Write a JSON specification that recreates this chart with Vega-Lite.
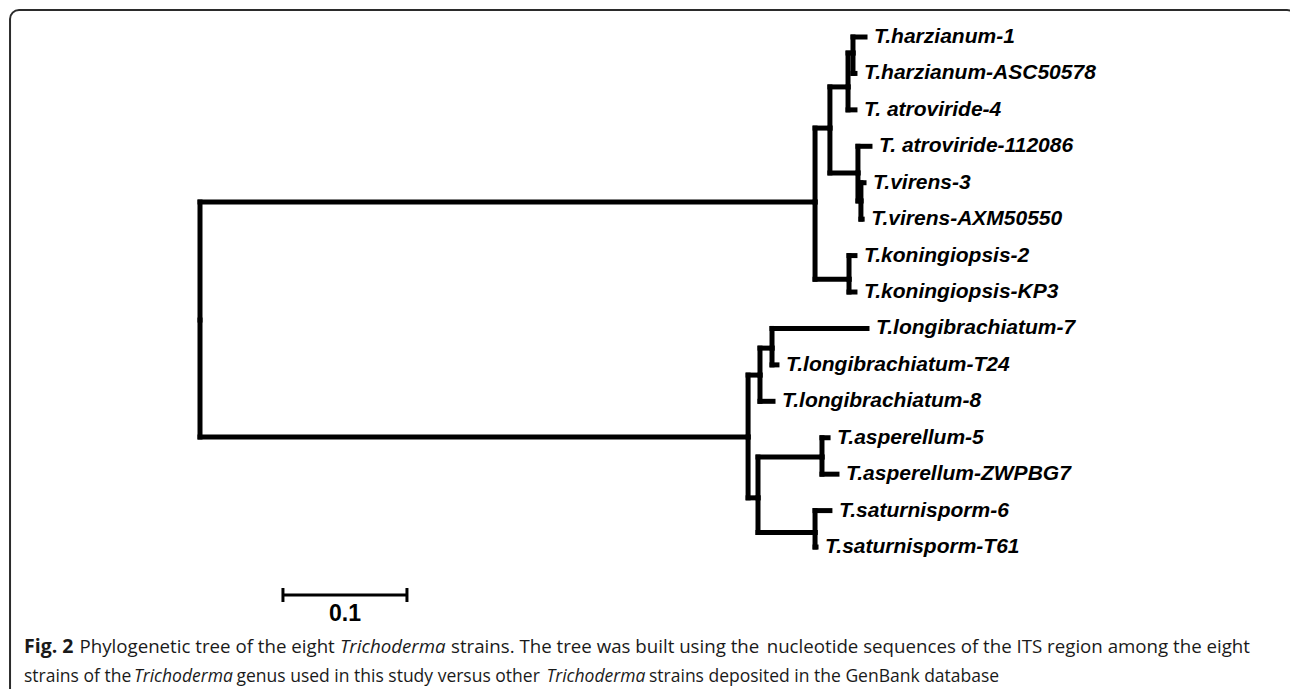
{
  "$schema": "https://vega.github.io/schema/vega-lite/v6.json",
  "width": 1290,
  "height": 689,
  "padding": 0,
  "autosize": {"type": "fit", "contains": "padding"},
  "background": "white",
  "config": {"view": {"stroke": null}},
  "datasets": {
    "nodes": [
      {"id": "R", "parent": null, "x": 0, "y": 7.77},
      {"id": "A", "parent": "R", "x": 0.496, "y": 4.53},
      {"id": "B", "parent": "A", "x": 0.508, "y": 2.5},
      {"id": "C", "parent": "B", "x": 0.5226, "y": 1.37},
      {"id": "E", "parent": "C", "x": 0.5266, "y": 0.44},
      {"id": "L0", "parent": "E", "x": 0.5363, "y": 0, "label": "T.harzianum-1"},
      {"id": "L1", "parent": "E", "x": 0.5282, "y": 1, "label": "T.harzianum-ASC50578"},
      {"id": "L2", "parent": "C", "x": 0.5282, "y": 2, "label": "T. atroviride-4"},
      {"id": "D", "parent": "B", "x": 0.5306, "y": 3.73},
      {"id": "L3", "parent": "D", "x": 0.5403, "y": 3, "label": "T. atroviride-112086"},
      {"id": "F", "parent": "D", "x": 0.533, "y": 4.5},
      {"id": "L4", "parent": "F", "x": 0.5355, "y": 4, "label": "T.virens-3"},
      {"id": "L5", "parent": "F", "x": 0.534, "y": 5, "label": "T.virens-AXM50550"},
      {"id": "G", "parent": "A", "x": 0.5234, "y": 6.65},
      {"id": "L6", "parent": "G", "x": 0.5282, "y": 6, "label": "T.koningiopsis-2"},
      {"id": "L7", "parent": "G", "x": 0.5282, "y": 7, "label": "T.koningiopsis-KP3"},
      {"id": "H", "parent": "R", "x": 0.442, "y": 10.98},
      {"id": "I", "parent": "H", "x": 0.4516, "y": 9.28},
      {"id": "J", "parent": "I", "x": 0.4613, "y": 8.54},
      {"id": "L8", "parent": "J", "x": 0.5379, "y": 8, "label": "T.longibrachiatum-7"},
      {"id": "L9", "parent": "J", "x": 0.4653, "y": 9, "label": "T.longibrachiatum-T24"},
      {"id": "L10", "parent": "I", "x": 0.4621, "y": 10, "label": "T.longibrachiatum-8"},
      {"id": "K", "parent": "H", "x": 0.45, "y": 12.65},
      {"id": "N", "parent": "K", "x": 0.5016, "y": 11.53},
      {"id": "L11", "parent": "N", "x": 0.5065, "y": 11, "label": "T.asperellum-5"},
      {"id": "L12", "parent": "N", "x": 0.5137, "y": 12, "label": "T.asperellum-ZWPBG7"},
      {"id": "M", "parent": "K", "x": 0.496, "y": 13.6},
      {"id": "L13", "parent": "M", "x": 0.508, "y": 13, "label": "T.saturnisporm-6"},
      {"id": "L14", "parent": "M", "x": 0.4968, "y": 14, "label": "T.saturnisporm-T61"}
    ],
    "scalebar": [{"start": 0.0669, "end": 0.1669, "label": "0.1"}]
  },
  "layer": [
    {
      "data": {"values": [{}]},
      "mark": {"type": "rect", "filled": false, "stroke": "#2b2b2b", "strokeWidth": 2, "cornerRadius": 9, "clip": true},
      "encoding": {
        "x": {"datum": -0.1532, "type": "quantitative", "scale": {"domain": [-0.16129, 0.87903], "nice": false, "zero": false}, "axis": null},
        "x2": {"datum": 0.8839},
        "y": {"datum": -0.741, "type": "quantitative", "scale": {"domain": [-1.0157, 17.897], "reverse": true, "nice": false, "zero": false}, "axis": null},
        "y2": {"datum": 20}
      }
    },
    {
      "data": {"name": "nodes"},
      "transform": [
        {"lookup": "parent", "from": {"data": {"name": "nodes"}, "key": "id", "fields": ["x", "y"]}, "as": ["px", "py"]},
        {"filter": "isValid(datum.px)"}
      ],
      "mark": {"type": "rule", "color": "black", "strokeWidth": 5, "strokeCap": "square"},
      "encoding": {
        "x": {"field": "px", "type": "quantitative", "scale": {"domain": [-0.16129, 0.87903], "nice": false, "zero": false}, "axis": null},
        "x2": {"field": "x"},
        "y": {"field": "y", "type": "quantitative", "scale": {"domain": [-1.0157, 17.897], "reverse": true, "nice": false, "zero": false}, "axis": null}
      }
    },
    {
      "data": {"name": "nodes"},
      "transform": [
        {"lookup": "parent", "from": {"data": {"name": "nodes"}, "key": "id", "fields": ["x", "y"]}, "as": ["px", "py"]},
        {"filter": "isValid(datum.px)"}
      ],
      "mark": {"type": "rule", "color": "black", "strokeWidth": 5, "strokeCap": "square"},
      "encoding": {
        "x": {"field": "px", "type": "quantitative", "axis": null},
        "y": {"field": "y", "type": "quantitative", "axis": null},
        "y2": {"field": "py"}
      }
    },
    {
      "data": {"name": "nodes"},
      "transform": [{"filter": "isValid(datum.label)"}],
      "mark": {"type": "text", "align": "left", "baseline": "middle", "dx": 9, "font": "Liberation Sans", "fontStyle": "italic", "fontWeight": "bold", "fontSize": 21, "color": "black"},
      "encoding": {
        "x": {"field": "x", "type": "quantitative", "axis": null},
        "y": {"field": "y", "type": "quantitative", "axis": null},
        "text": {"field": "label"}
      }
    },
    {
      "data": {"name": "scalebar"},
      "mark": {"type": "rule", "color": "black", "strokeWidth": 3},
      "encoding": {
        "x": {"field": "start", "type": "quantitative", "axis": null},
        "x2": {"field": "end"},
        "y": {"datum": 15.317, "type": "quantitative", "axis": null}
      }
    },
    {
      "data": {"name": "scalebar"},
      "mark": {"type": "rule", "color": "black", "strokeWidth": 3},
      "encoding": {
        "x": {"field": "start", "type": "quantitative", "axis": null},
        "y": {"datum": 15.125, "type": "quantitative", "axis": null},
        "y2": {"datum": 15.509}
      }
    },
    {
      "data": {"name": "scalebar"},
      "mark": {"type": "rule", "color": "black", "strokeWidth": 3},
      "encoding": {
        "x": {"field": "end", "type": "quantitative", "axis": null},
        "y": {"datum": 15.125, "type": "quantitative", "axis": null},
        "y2": {"datum": 15.509}
      }
    },
    {
      "data": {"name": "scalebar"},
      "mark": {"type": "text", "align": "center", "baseline": "middle", "font": "Liberation Sans", "fontWeight": "bold", "fontSize": 23, "color": "black"},
      "encoding": {
        "x": {"datum": 0.1169, "type": "quantitative", "axis": null},
        "y": {"datum": 15.85, "type": "quantitative", "axis": null},
        "text": {"field": "label"}
      }
    },
    {
      "data": {"values": [{"t": "Fig. 2"}]},
      "mark": {"type": "text", "align": "left", "baseline": "alphabetic", "font": "Open Sans", "fontWeight": "bold", "fontSize": 19.5, "color": "#1a1a1a"},
      "encoding": {"x": {"datum": -0.14194, "type": "quantitative", "axis": null}, "y": {"datum": 16.909, "type": "quantitative", "axis": null}, "text": {"field": "t"}}
    },
    {
      "data": {"values": [{"t": "Phylogenetic tree of the eight"}]},
      "mark": {"type": "text", "align": "left", "baseline": "alphabetic", "font": "Open Sans", "fontSize": 18.7, "color": "#1a1a1a"},
      "encoding": {"x": {"datum": -0.09718, "type": "quantitative", "axis": null}, "y": {"datum": 16.909, "type": "quantitative", "axis": null}, "text": {"field": "t"}}
    },
    {
      "data": {"values": [{"t": "Trichoderma"}]},
      "mark": {"type": "text", "align": "left", "baseline": "alphabetic", "font": "Open Sans", "fontStyle": "italic", "fontSize": 18.7, "color": "#1a1a1a"},
      "encoding": {"x": {"datum": 0.1129, "type": "quantitative", "axis": null}, "y": {"datum": 16.909, "type": "quantitative", "axis": null}, "text": {"field": "t"}}
    },
    {
      "data": {"values": [{"t": "strains. The tree was built using the"}]},
      "mark": {"type": "text", "align": "left", "baseline": "alphabetic", "font": "Open Sans", "fontSize": 18.7, "color": "#1a1a1a"},
      "encoding": {"x": {"datum": 0.20242, "type": "quantitative", "axis": null}, "y": {"datum": 16.909, "type": "quantitative", "axis": null}, "text": {"field": "t"}}
    },
    {
      "data": {"values": [{"t": "nucleotide sequences of the ITS region among the eight"}]},
      "mark": {"type": "text", "align": "right", "baseline": "alphabetic", "font": "Open Sans", "fontSize": 18.7, "color": "#1a1a1a"},
      "encoding": {"x": {"datum": 0.84677, "type": "quantitative", "axis": null}, "y": {"datum": 16.909, "type": "quantitative", "axis": null}, "text": {"field": "t"}}
    },
    {
      "data": {"values": [{"t": "strains of the"}]},
      "mark": {"type": "text", "align": "left", "baseline": "alphabetic", "font": "Open Sans", "fontSize": 17.5, "color": "#1a1a1a"},
      "encoding": {"x": {"datum": -0.14194, "type": "quantitative", "axis": null}, "y": {"datum": 17.705, "type": "quantitative", "axis": null}, "text": {"field": "t"}}
    },
    {
      "data": {"values": [{"t": "Trichoderma"}]},
      "mark": {"type": "text", "align": "left", "baseline": "alphabetic", "font": "Open Sans", "fontStyle": "italic", "fontSize": 17.5, "color": "#1a1a1a"},
      "encoding": {"x": {"datum": -0.05323, "type": "quantitative", "axis": null}, "y": {"datum": 17.705, "type": "quantitative", "axis": null}, "text": {"field": "t"}}
    },
    {
      "data": {"values": [{"t": "genus used in this study versus other"}]},
      "mark": {"type": "text", "align": "left", "baseline": "alphabetic", "font": "Open Sans", "fontSize": 17.5, "color": "#1a1a1a"},
      "encoding": {"x": {"datum": 0.02944, "type": "quantitative", "axis": null}, "y": {"datum": 17.705, "type": "quantitative", "axis": null}, "text": {"field": "t"}}
    },
    {
      "data": {"values": [{"t": "Trichoderma"}]},
      "mark": {"type": "text", "align": "left", "baseline": "alphabetic", "font": "Open Sans", "fontStyle": "italic", "fontSize": 17.5, "color": "#1a1a1a"},
      "encoding": {"x": {"datum": 0.27944, "type": "quantitative", "axis": null}, "y": {"datum": 17.705, "type": "quantitative", "axis": null}, "text": {"field": "t"}}
    },
    {
      "data": {"values": [{"t": "strains deposited in the GenBank database"}]},
      "mark": {"type": "text", "align": "left", "baseline": "alphabetic", "font": "Open Sans", "fontSize": 17.5, "color": "#1a1a1a"},
      "encoding": {"x": {"datum": 0.3621, "type": "quantitative", "axis": null}, "y": {"datum": 17.705, "type": "quantitative", "axis": null}, "text": {"field": "t"}}
    }
  ]
}
